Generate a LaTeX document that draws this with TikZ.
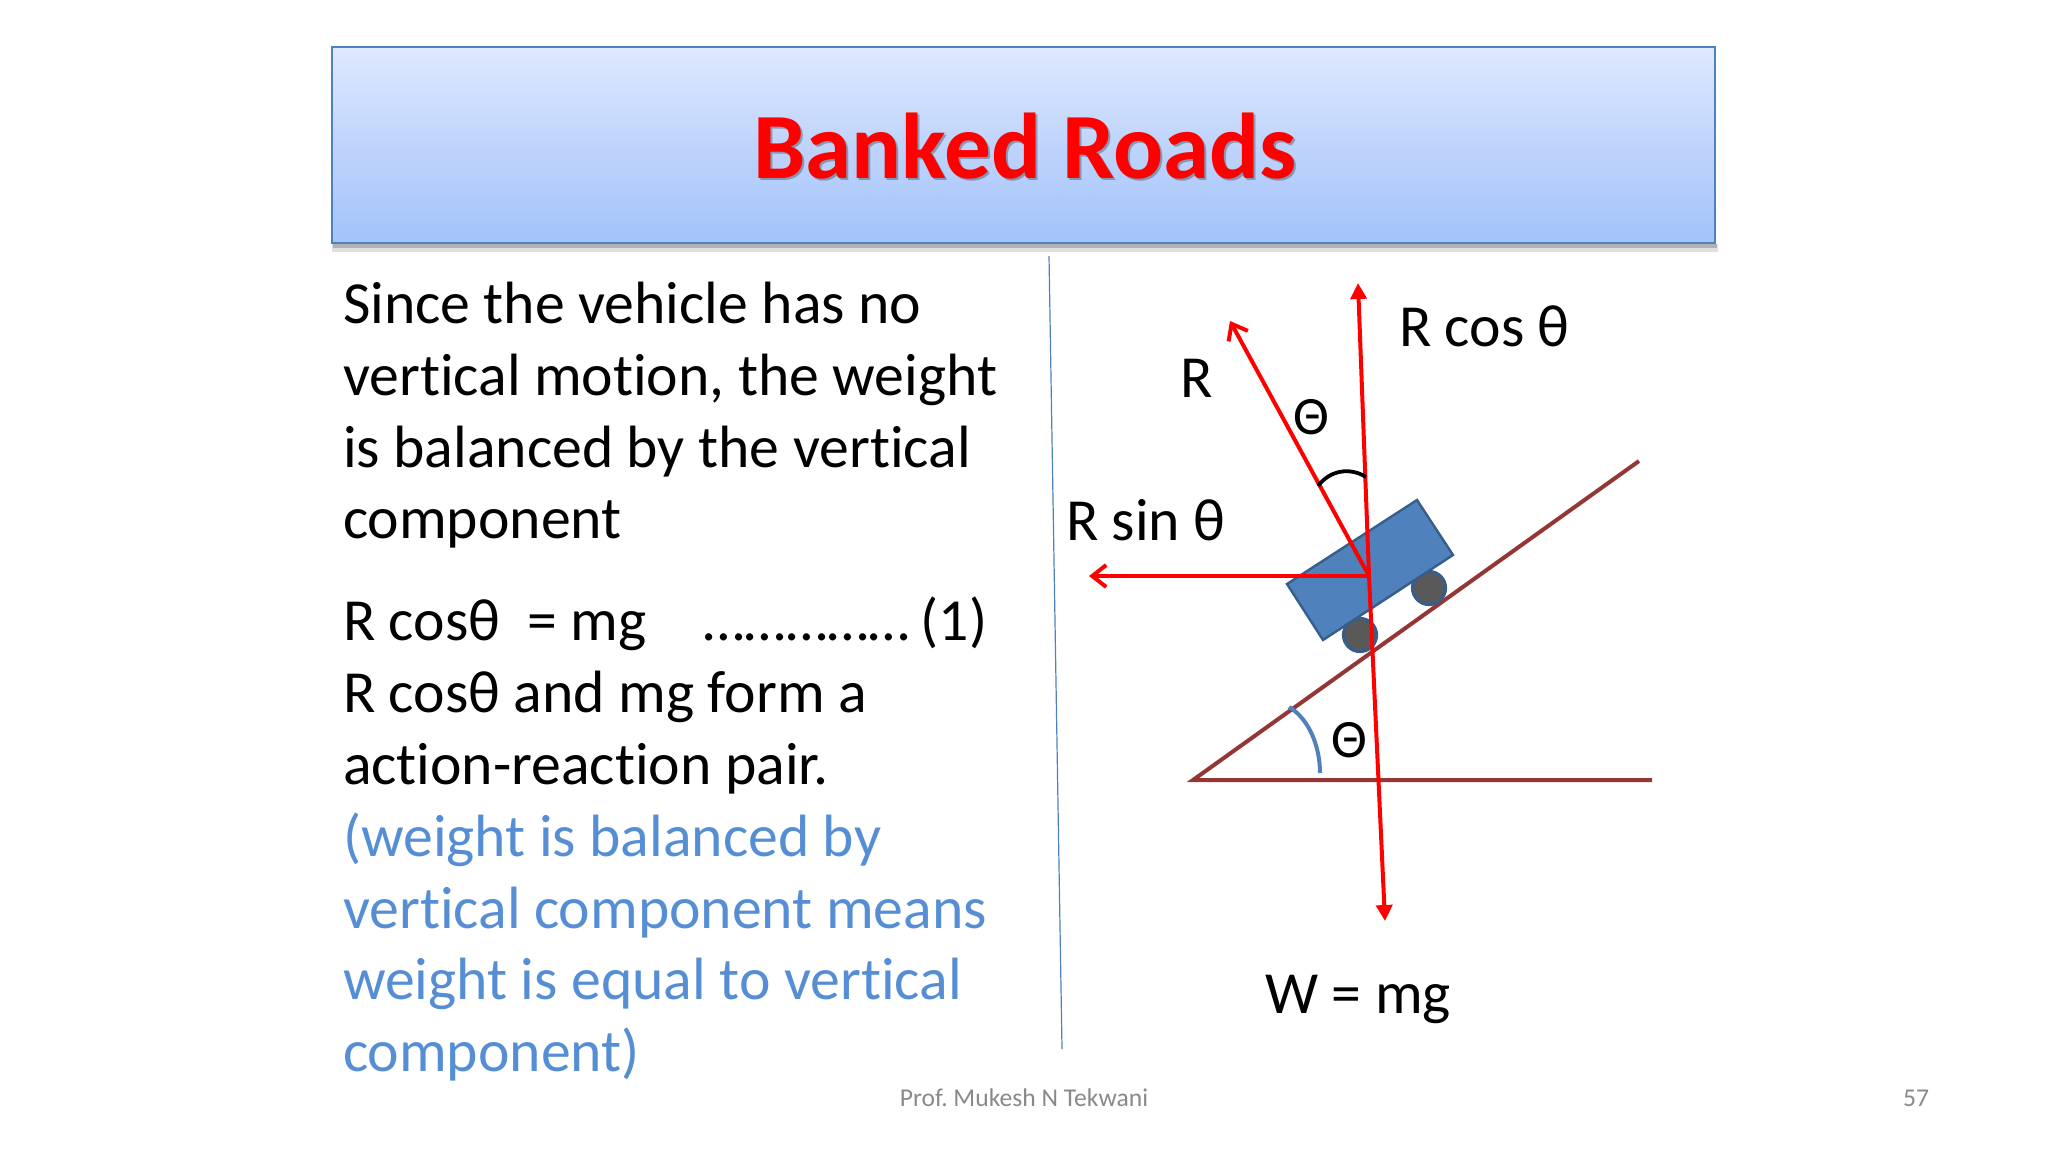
\documentclass[tikz,border=0pt]{standalone}
\usepackage{fontspec}
\setmainfont[Ligatures=NoCommon]{Carlito}
\usetikzlibrary{arrows.meta,shadings}
\definecolor{roadred}{HTML}{943634}
\definecolor{cartblue}{HTML}{4F81BD}
\definecolor{cartedge}{HTML}{385D8A}
\definecolor{bluetext}{HTML}{558ED5}
\definecolor{wheelgray}{HTML}{595959}
\definecolor{boxtop}{HTML}{DFE9FF}
\definecolor{boxmid}{HTML}{BFD4FB}
\definecolor{boxbot}{HTML}{A3C3FA}
\definecolor{footgray}{HTML}{898989}
\newcommand{\bodysize}{\fontsize{29.85}{36}\selectfont}
\tikzset{
  bodyline/.style={anchor=base west,inner sep=0pt,outer sep=0pt,font=\bodysize,text=black},
  blueline/.style={bodyline,text=bluetext},
  lbl/.style={anchor=base,inner sep=0pt,outer sep=0pt,font=\bodysize},
  foot/.style={anchor=base,inner sep=0pt,font=\fontsize{12.8}{14}\selectfont,text=footgray},
  force/.style={draw=red,line width=2pt},
  solidhead/.style={-{Triangle[length=8pt,width=8pt]}},
  openhead/.style={-{Straight Barb[length=7pt,width=11pt,line width=2pt]}},
  road/.style={draw=roadred,line width=2pt},
}
\begin{document}
\begin{tikzpicture}[x=0.5pt,y=-0.5pt]
\useasboundingbox (0,0) rectangle (2048,1152);
% title box
\fill[black!12] (332,244) rectangle (1718,252);
\fill[black!30] (333,244) rectangle (1717,248);
\shade[top color=boxtop,bottom color=boxbot,middle color=boxmid] (332,47) rectangle (1715,243);
\draw[cartblue,line width=0.8pt] (332,47) rectangle (1715,243);
\node[anchor=base,inner sep=0pt,font=\fontsize{46.7}{50}\selectfont\bfseries,text=black,opacity=0.28] at (1027,180) {Banked Roads};
\node (title) [anchor=base,inner sep=0pt,font=\fontsize{46.7}{50}\selectfont\bfseries,text=red] at (1025,178) {Banked Roads};
% divider
\coordinate (d1) at (1049,256);
\coordinate (d2) at (1062,1049);
\draw[cartblue,line width=0.6pt] (d1) -- (d2);
% text
\node (t1) [bodyline] at (343,323) {Since the vehicle has no};
\node (t2) [bodyline] at (343,395) {vertical motion, the weight};
\node (t3) [bodyline] at (343,467) {is balanced by the vertical};
\node (t4) [bodyline] at (343,538) {component};
\node (t5) [bodyline] at (343,640) {R cosθ\ \ = mg\hspace{28.7pt}……………\hspace{-1.2pt} (1)};
\node (t6) [bodyline] at (343,712) {R cosθ and mg form a};
\node (t7) [bodyline] at (343,784) {action-reaction pair.};
\node (t8) [blueline] at (343,856) {(weight is balanced by};
\node (t9) [blueline] at (343,928) {vertical component means};
\node (t10) [blueline] at (343,999) {weight is equal to vertical};
\node (t11) [blueline] at (343,1071) {component)};
\node (ft) [foot] at (1024,1106) {Prof.\ Mukesh N Tekwani};
\node (pg) [foot] at (1916,1106) {57};
% road
\coordinate (A) at (1193,780);
\coordinate (B) at (1639,461);
\coordinate (C) at (1652,780);
\draw[road,line join=miter] (B) -- (A) -- (C);
% wheels
\filldraw[fill=wheelgray,draw=cartedge,line width=1.6pt] (1429,588) circle (16.5);
\filldraw[fill=wheelgray,draw=cartedge,line width=1.6pt] (1360,635) circle (16.5);
% cart
\filldraw[fill=cartblue,draw=cartedge,line width=1.2pt] (1417,500) -- (1453,555) -- (1323,640) -- (1287,584) -- cycle;
% forces
\coordinate (O) at (1369,576);
\coordinate (Rtip) at (1230,321);
\coordinate (Stip) at (1089,576);
\coordinate (Ctop) at (1358,283);
\coordinate (Wtip) at (1385,921);
\draw[force,openhead] (O) -- (Rtip);
\draw[force,openhead] (O) -- (Stip);
\draw[force,solidhead] (O) -- (Ctop);
\draw[force,solidhead] (O) -- (Wtip);
% angle arcs
\coordinate (a1) at (1318,486);
\coordinate (a2) at (1366,477);
\draw[black,line width=1.9pt] (a1) .. controls (1330,470) and (1350,467) .. (a2);
\coordinate (b1) at (1289,707);
\coordinate (b2) at (1320,773);
\draw[cartblue,line width=2pt] (b1) .. controls (1308,718) and (1320,745) .. (b2);
% labels
\node (lR) [lbl] at (1197,397) {R};
\node (lth1) [lbl,font=\fontsize{27}{32}\selectfont] at (1311,434) {Θ};
\node (lth2) [lbl,font=\fontsize{27}{32}\selectfont] at (1349,757) {Θ};
\node (lC) [lbl,anchor=base west] at (1399,346) {R cos θ};
\node (lS) [lbl,anchor=base west] at (1066,540) {R sin θ};
\node (lW) [lbl] at (1358,1013) {W = mg};
\end{tikzpicture}
\end{document}
